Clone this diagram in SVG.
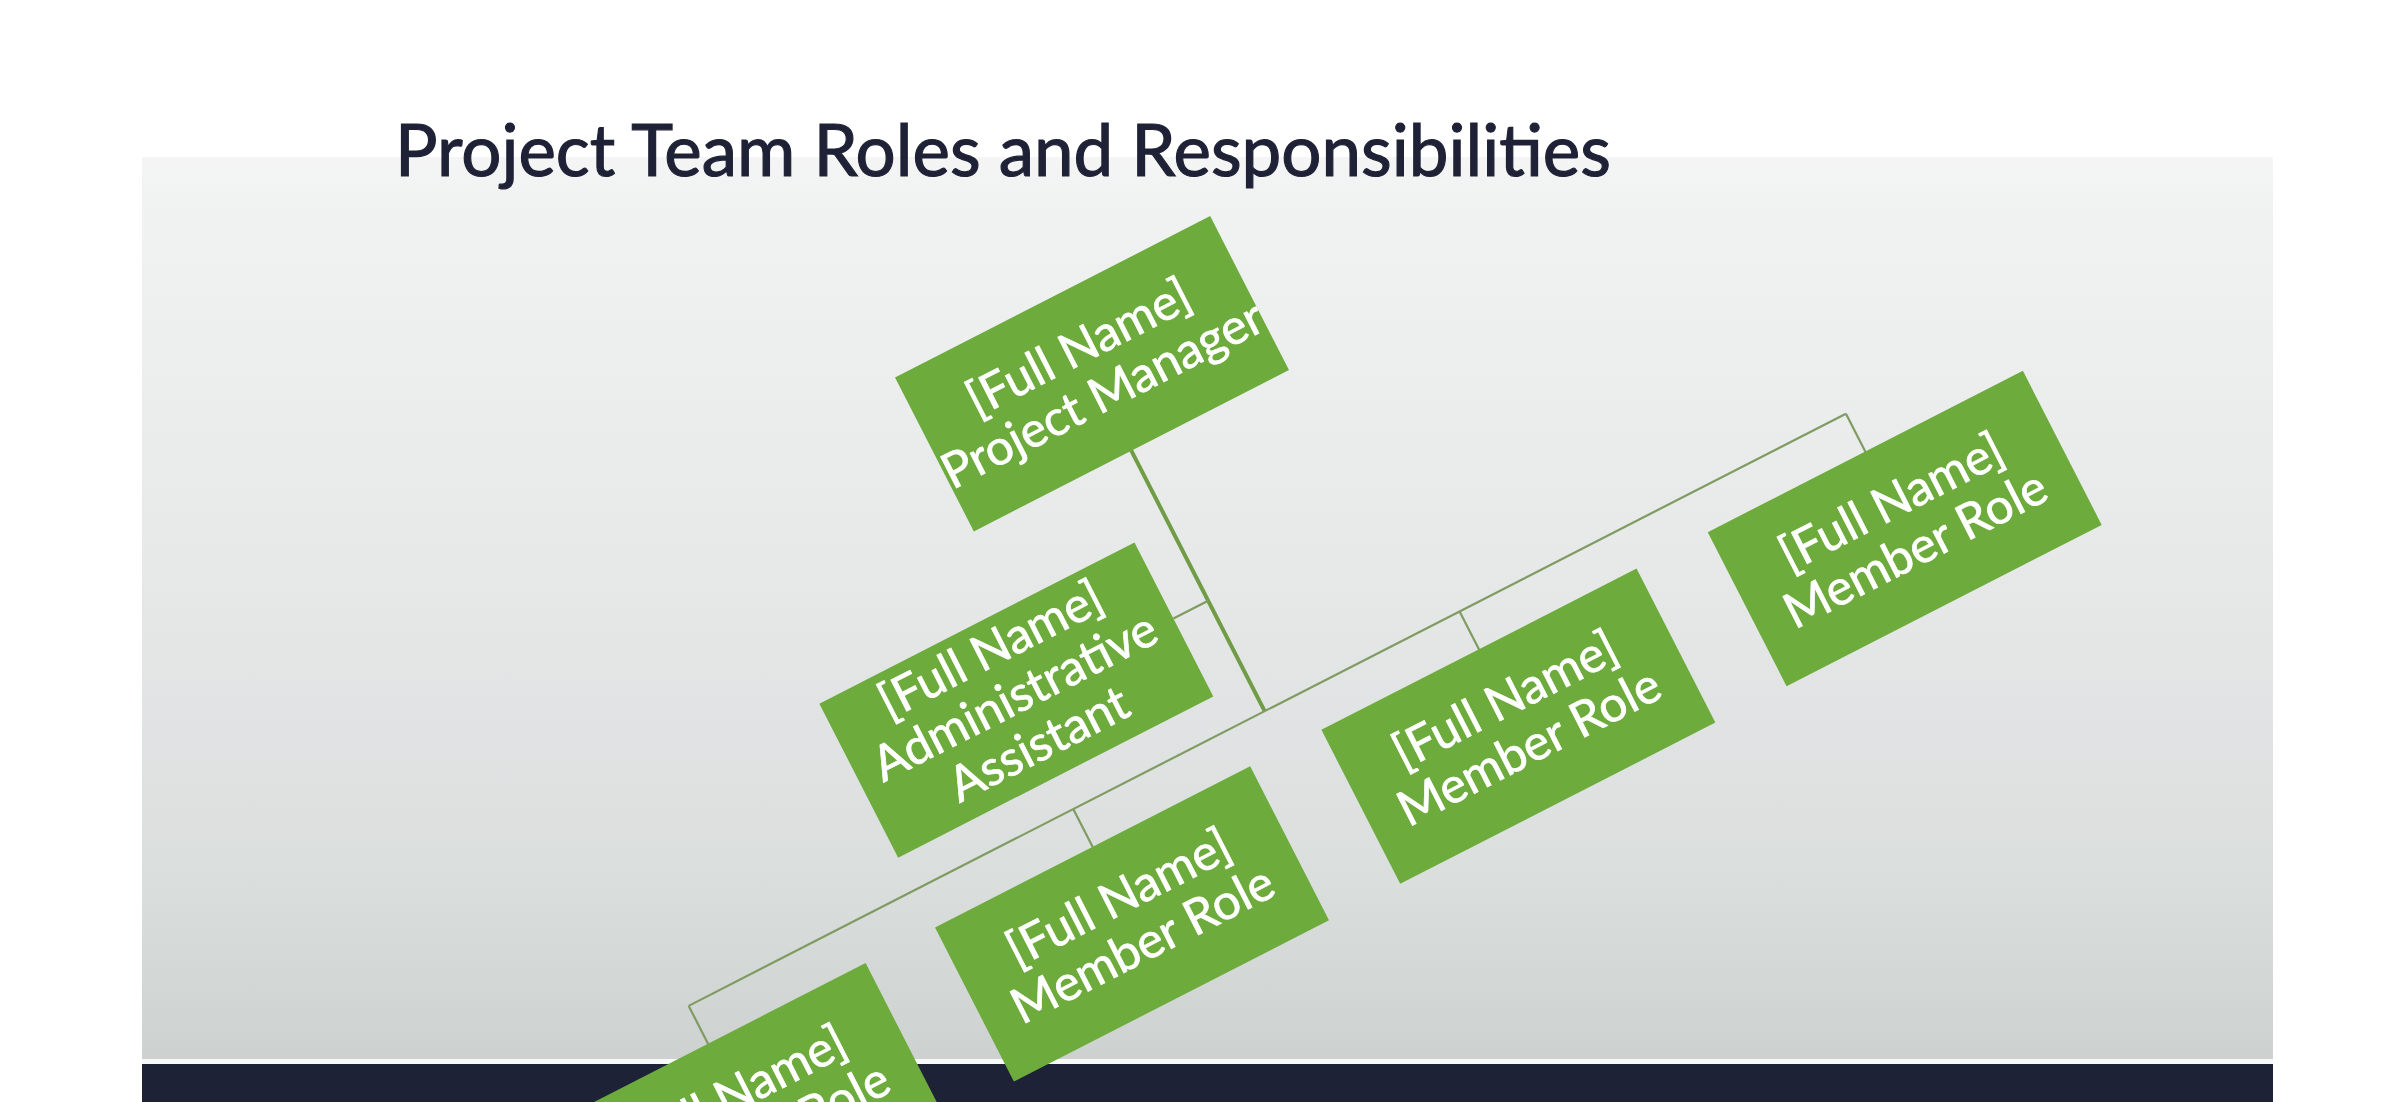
<svg xmlns="http://www.w3.org/2000/svg" width="2392" height="1102" viewBox="0 0 2392 1102">
  <defs>
    <linearGradient id="panelGrad" x1="0" y1="0" x2="0" y2="1">
      <stop offset="0" stop-color="#f5f5f5"/>
      <stop offset="0.04" stop-color="#f1f2f2"/>
      <stop offset="0.45" stop-color="#e7e9e9"/>
      <stop offset="0.8" stop-color="#dadedd"/>
      <stop offset="1" stop-color="#cdd1d0"/>
    </linearGradient>
    <style>
      .box { fill: #6dab3c; }
      .lbl { font-family: Lato, "Open Sans", "Liberation Sans", sans-serif; font-size: 49px; fill: #ffffff; stroke: #ffffff; stroke-width: 0.7; text-anchor: middle; }
      .main { stroke: #6f9c45; stroke-width: 4; fill: none; }
      .conn { stroke: #7f9b62; stroke-width: 2.2; fill: none; }
      .title { font-family: Lato, "Open Sans", "Liberation Sans", sans-serif; font-size: 72px; fill: #1f2236; stroke: #1f2236; stroke-width: 1.2; }
    </style>
  </defs>

  <rect x="0" y="0" width="2392" height="1102" fill="#ffffff"/>
  <rect x="142" y="157" width="2131" height="902" fill="url(#panelGrad)"/>
  <rect x="142" y="1059" width="2131" height="5" fill="#f7f8f8"/>
  <rect x="142" y="1064" width="2131" height="38" fill="#1d2237"/>

  <text class="title" x="395" y="176" textLength="1216" lengthAdjust="spacingAndGlyphs">Project Team Roles and Responsibilities</text>

  <g id="chart" transform="translate(1092 373.75) rotate(-27.1)">
    <g id="connectors">
      <line class="main" x1="0" y1="86" x2="0" y2="379"/>
      <line class="conn" x1="-39" y1="255" x2="0" y2="255"/>
      <line class="conn" x1="-647" y1="379" x2="653" y2="379"/>
      <line class="conn" x1="-647" y1="379" x2="-647" y2="422"/>
      <line class="conn" x1="-215" y1="379" x2="-215" y2="422"/>
      <line class="conn" x1="219" y1="379" x2="219" y2="422"/>
      <line class="conn" x1="653" y1="379" x2="653" y2="422"/>
    </g>

    <g id="project-manager">
      <rect class="box" x="-177" y="-86.5" width="354" height="173"/>
      <text class="lbl" x="0" y="-13">[Full Name]</text>
      <text class="lbl" x="0" y="40">Project Manager</text>
    </g>

    <g id="admin-assistant" transform="translate(-216 256)">
      <rect class="box" x="-177" y="-86.5" width="354" height="173"/>
      <text class="lbl" x="0" y="-40">[Full Name]</text>
      <text class="lbl" x="0" y="13">Administrative</text>
      <text class="lbl" x="0" y="66">Assistant</text>
    </g>

    <g id="member-1" transform="translate(-647 508)">
      <rect class="box" x="-177" y="-86.5" width="354" height="173"/>
      <text class="lbl" x="0" y="-13">[Full Name]</text>
      <text class="lbl" x="0" y="40">Member Role</text>
    </g>

    <g id="member-2" transform="translate(-215 508)">
      <rect class="box" x="-177" y="-86.5" width="354" height="173"/>
      <text class="lbl" x="0" y="-13">[Full Name]</text>
      <text class="lbl" x="0" y="40">Member Role</text>
    </g>

    <g id="member-3" transform="translate(219 508)">
      <rect class="box" x="-177" y="-86.5" width="354" height="173"/>
      <text class="lbl" x="0" y="-13">[Full Name]</text>
      <text class="lbl" x="0" y="40">Member Role</text>
    </g>

    <g id="member-4" transform="translate(653 508)">
      <rect class="box" x="-177" y="-86.5" width="354" height="173"/>
      <text class="lbl" x="0" y="-13">[Full Name]</text>
      <text class="lbl" x="0" y="40">Member Role</text>
    </g>
  </g>
</svg>
